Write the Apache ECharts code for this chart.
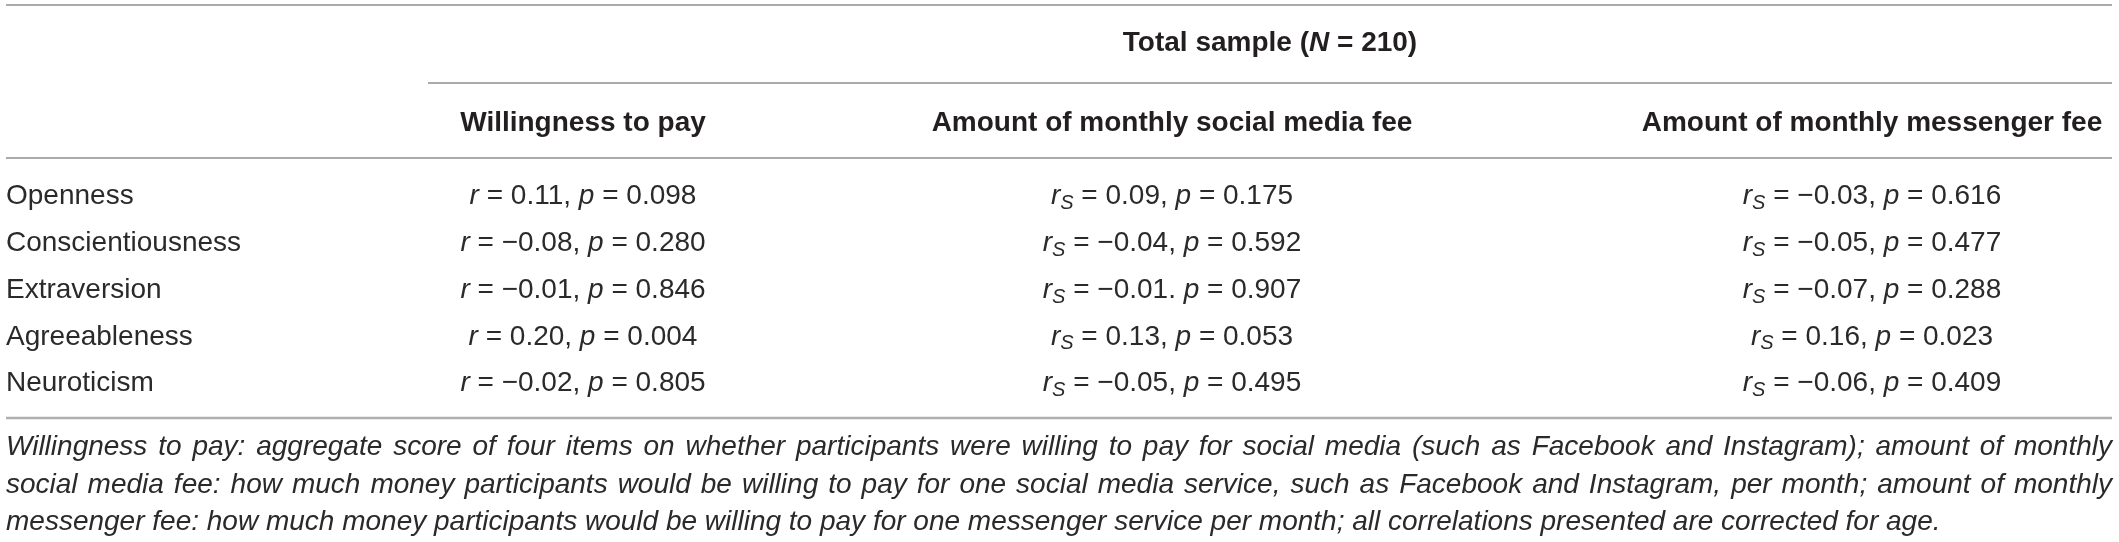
<!DOCTYPE html>
<html>
<head>
<meta charset="utf-8">
<script src="https://cdn.jsdelivr.net/npm/echarts@6/dist/echarts.min.js"></script>
<style>
    html, body { margin: 0; padding: 0; background: #fff; }
    #chart { width: 2119px; height: 542px; }
</style>
</head>
<body>
<div id="chart"></div>
<script>
var traits = ['Openness', 'Conscientiousness', 'Extraversion', 'Agreeableness', 'Neuroticism'];

var columnTitles = ['Willingness to pay', 'Amount of monthly social media fee', 'Amount of monthly messenger fee'];
var groupTitle = 'Total sample';
var sampleSize = 210;

// willingness to pay (Pearson r)
var wtpR = [0.11, -0.08, -0.01, 0.20, -0.02];
var wtpP = [0.098, 0.280, 0.846, 0.004, 0.805];

// monthly social media fee (Spearman rs)
var socialR = [0.09, -0.04, -0.01, 0.13, -0.05];
var socialP = [0.175, 0.592, 0.907, 0.053, 0.495];
var socialSep = [',', ',', '.', ',', ','];

// monthly messenger fee (Spearman rs)
var messengerR = [-0.03, -0.05, -0.07, 0.16, -0.06];
var messengerP = [0.616, 0.477, 0.288, 0.023, 0.409];

var noteLines = [
    'Willingness to pay: aggregate score of four items on whether participants were willing to pay for social media (such as Facebook and Instagram); amount of monthly',
    'social media fee: how much money participants would be willing to pay for one social media service, such as Facebook and Instagram, per month; amount of monthly',
    'messenger fee: how much money participants would be willing to pay for one messenger service per month; all correlations presented are corrected for age.'
];

var FONT = '"Liberation Sans", Arial, Helvetica, sans-serif';
var INK = '#231f20';
var BODY = '#2a2a2a';
var RULE = '#8f8f8f';
var W = 2119;

// layout (pixels)
var layout = {
    left: 6,
    right: 2112,
    colX: [583, 1172, 1872],
    spanLeft: 428,
    topRule: 5,
    spanRule: 83,
    headRule: 158,
    bottomRule: 418,
    groupY: 43,
    headY: 123,
    noteY: [447, 485, 522]
};

var fmt = function (v, digits) {
    var s = Math.abs(v).toFixed(digits);
    return (v < 0 ? '\u2212' : '') + s;
};

var cellText = function (col, i) {
    if (col === 0) {
        return '{i|r} = ' + fmt(wtpR[i], 2) + ', {i|p} = ' + fmt(wtpP[i], 3);
    }
    if (col === 1) {
        return '{i|r}{sub|S} = ' + fmt(socialR[i], 2) + socialSep[i] + ' {i|p} = ' + fmt(socialP[i], 3);
    }
    return '{i|r}{sub|S} = ' + fmt(messengerR[i], 2) + ', {i|p} = ' + fmt(messengerP[i], 3);
};

var cellRich = {
    i: { fontStyle: 'italic', fontSize: 28, fontFamily: FONT, fill: BODY, lineHeight: 34 },
    sub: { fontStyle: 'italic', fontSize: 20, fontFamily: FONT, fill: BODY, lineHeight: 21, verticalAlign: 'bottom' }
};

var renderRow = function (params, api) {
    var idx = api.value(0);
    var y = api.coord([0, idx])[1];
    var children = [{
        type: 'text',
        x: layout.left,
        y: y,
        style: {
            text: traits[idx],
            fontSize: 28,
            fontFamily: FONT,
            fill: BODY,
            align: 'left',
            verticalAlign: 'middle'
        }
    }];
    layout.colX.forEach(function (cx, col) {
        children.push({
            type: 'text',
            x: cx,
            y: y,
            style: {
                text: cellText(col, idx),
                fontSize: 28,
                fontFamily: FONT,
                fill: BODY,
                lineHeight: 34,
                align: 'center',
                verticalAlign: 'middle',
                rich: cellRich
            }
        });
    });
    return { type: 'group', children: children };
};

var measure = (function () {
    var ctx = document.createElement('canvas').getContext('2d');
    return function (text, font) {
        ctx.font = font;
        return ctx.measureText(text).width;
    };
})();

// justified italic footnote, one text element per word
var noteGraphics = function () {
    var size = 28;
    var font = 'italic ' + size + 'px ' + FONT;
    var out = [];
    noteLines.forEach(function (line, li) {
        var words = line.split(' ');
        var widths = words.map(function (w) { return measure(w, font); });
        var total = widths.reduce(function (a, b) { return a + b; }, 0);
        var last = li === noteLines.length - 1;
        var gap = last ? measure(' ', font) : (layout.right - layout.left - total) / (words.length - 1);
        var x = layout.left;
        words.forEach(function (w, wi) {
            out.push({
                type: 'text',
                x: x,
                y: layout.noteY[li],
                style: {
                    text: w,
                    font: font,
                    fill: BODY,
                    align: 'left',
                    verticalAlign: 'middle'
                }
            });
            x += widths[wi] + gap;
        });
    });
    return out;
};

var rule = function (x1, x2, y, color, width) {
    return {
        type: 'line',
        shape: { x1: x1, y1: y, x2: x2, y2: y },
        style: { stroke: color, lineWidth: width }
    };
};

var headerGraphics = function () {
    var items = [
        rule(layout.left, layout.right, layout.topRule, RULE, 1.5),
        rule(layout.spanLeft, layout.right, layout.spanRule, RULE, 1.5),
        rule(layout.left, layout.right, layout.headRule, RULE, 1.5),
        rule(layout.left, layout.right, layout.bottomRule, '#b0b0b0', 2.5),
        {
            type: 'text',
            x: (layout.spanLeft + layout.right) / 2,
            y: layout.groupY,
            style: {
                text: groupTitle + ' ({n|N} = ' + sampleSize + ')',
                fontSize: 28,
                fontWeight: 'bold',
                fontFamily: FONT,
                fill: INK,
                align: 'center',
                verticalAlign: 'middle',
                rich: {
                    n: { fontSize: 28, fontWeight: 'bold', fontStyle: 'italic', fontFamily: FONT, fill: INK }
                }
            }
        }
    ];
    columnTitles.forEach(function (title, i) {
        items.push({
            type: 'text',
            x: layout.colX[i],
            y: layout.headY,
            style: {
                text: title,
                fontSize: 28,
                fontWeight: 'bold',
                fontFamily: FONT,
                fill: INK,
                align: 'center',
                verticalAlign: 'middle'
            }
        });
    });
    return items.concat(noteGraphics());
};

var chart = echarts.init(document.getElementById('chart'), null, { renderer: 'canvas' });

chart.setOption({
    animation: false,
    backgroundColor: '#fff',
    grid: { left: 0, right: 0, top: 173, height: 234 },
    xAxis: { type: 'value', min: 0, max: W, show: false },
    yAxis: { type: 'category', data: traits, inverse: true, show: false },
    series: [{
        type: 'custom',
        renderItem: renderRow,
        data: traits.map(function (t, i) { return [i]; }),
        encode: { y: 0 },
        silent: true
    }],
    graphic: headerGraphics()
});
</script>
</body>
</html>
